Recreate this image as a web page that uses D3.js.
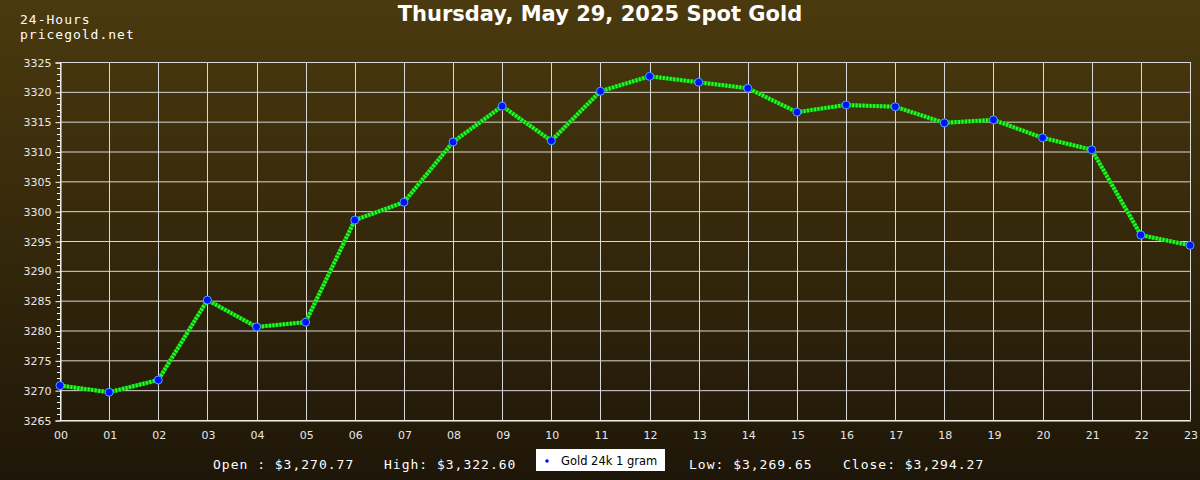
<!DOCTYPE html>
<html><head><meta charset="utf-8">
<script src="https://cdn.jsdelivr.net/npm/d3@7"></script>
<style>html,body{margin:0;padding:0;background:#000;}svg{display:block;}</style>
</head><body>
<svg id="c" width="1200" height="480"></svg>
<script>
const hours = ["00","01","02","03","04","05","06","07","08","09","10","11","12","13","14","15","16","17","18","19","20","21","22","23"];
const prices = [3270.77,3269.65,3271.7,3285.1,3280.6,3281.4,3298.5,3301.5,3311.6,3317.6,3311.8,3320.1,3322.6,3321.6,3320.6,3316.6,3317.8,3317.5,3314.8,3315.3,3312.3,3310.3,3296.0,3294.27];
const yTicks = [3265,3270,3275,3280,3285,3290,3295,3300,3305,3310,3315,3320,3325];
const title = "Thursday, May 29, 2025 Spot Gold";
const stats = ["Open : $3,270.77","High: $3,322.60","Low: $3,269.65","Close: $3,294.27"];
const legendLabel = "Gold 24k 1 gram";

const svg = d3.select("#c");
const defs = svg.append("defs");
const g = defs.append("linearGradient").attr("id","bg").attr("x1",0).attr("y1",0).attr("x2",0).attr("y2",1);
g.append("stop").attr("offset","0%").attr("stop-color","#4b3a0e");
g.append("stop").attr("offset","100%").attr("stop-color","#1e1608");
svg.append("rect").attr("width",1200).attr("height",480).attr("fill","url(#bg)");

const x = d3.scalePoint().domain(hours).range([60,1190]);
const y = d3.scaleLinear().domain([3265,3325]).range([420,62]);

// grid
svg.append("g").selectAll("line").data(yTicks).join("line")
  .attr("x1",60).attr("x2",1190).attr("y1",d=>y(d)+0.5).attr("y2",d=>y(d)+0.5)
  .attr("stroke","#d8d8d8").attr("stroke-width",1);
svg.append("g").selectAll("line").data(hours).join("line")
  .attr("x1",d=>Math.round(x(d))+0.5).attr("x2",d=>Math.round(x(d))+0.5).attr("y1",y(3325)).attr("y2",y(3265))
  .attr("stroke","#d8d8d8").attr("stroke-width",1);

// y axis
const yAxis = d3.axisLeft(y).tickValues(yTicks).tickSize(5).tickFormat(d3.format("d"));
const ya = svg.append("g").attr("transform","translate(60.5,0.5)").call(yAxis);
ya.select(".domain").attr("stroke","#ffffff");
ya.selectAll(".tick line").attr("stroke","#ffffff");
ya.selectAll("text").attr("fill","#e8e8e8").attr("font-family","DejaVu Sans").attr("font-size","11px").attr("x",-9);
const minor = d3.range(3265,3326,1).filter(v=>v%5!==0);
svg.append("g").selectAll("line").data(minor).join("line")
  .attr("x1",57).attr("x2",60).attr("y1",d=>Math.round(y(d))+0.5).attr("y2",d=>Math.round(y(d))+0.5)
  .attr("stroke","#ffffff");

// x axis
const xAxis = d3.axisBottom(x).tickSize(0).tickPadding(11);
const xa = svg.append("g").attr("transform","translate(0.5,420.5)").call(xAxis);
xa.select(".domain").attr("stroke","#ffffff");
xa.selectAll("text").attr("fill","#e8e8e8").attr("font-family","DejaVu Sans").attr("font-size","11px");

// line
const line = d3.line().x((d,i)=>x(hours[i])).y(d=>y(d));
svg.append("path").datum(prices).attr("d",line).attr("fill","none")
  .attr("stroke","#119911").attr("stroke-width",4);
svg.append("path").datum(prices).attr("d",line).attr("fill","none")
  .attr("stroke","#22ff22").attr("stroke-width",4).attr("stroke-dasharray","2,1.5");

// points
svg.append("g").selectAll("circle").data(prices).join("circle")
  .attr("cx",(d,i)=>x(hours[i])).attr("cy",d=>y(d)).attr("r",4)
  .attr("fill","#0010ff").attr("stroke","#4aa8ff").attr("stroke-width",1);

// titles
svg.append("text").attr("x",600).attr("y",21).attr("text-anchor","middle")
  .attr("font-family","DejaVu Sans").attr("font-weight","bold").attr("font-size","21px").attr("fill","#ffffff").text(title);
svg.append("text").attr("x",20).attr("y",24).attr("font-family","DejaVu Sans Mono").attr("font-size","13px").attr("letter-spacing","1px").attr("fill","#ffffff").text("24-Hours");
svg.append("text").attr("x",20).attr("y",39).attr("font-family","DejaVu Sans Mono").attr("font-size","13px").attr("letter-spacing","1px").attr("fill","#ffffff").text("pricegold.net");

// stats
const statX = [213,384,689,843];
svg.append("g").selectAll("text").data(stats).join("text")
  .attr("x",(d,i)=>statX[i]).attr("y",469)
  .attr("font-family","DejaVu Sans Mono").attr("font-size","13px").attr("letter-spacing","1px").attr("fill","#ffffff").text(d=>d);

// legend
svg.append("rect").attr("x",536).attr("y",449).attr("width",129).attr("height",22).attr("fill","#ffffff");
svg.append("circle").attr("cx",547).attr("cy",461).attr("r",1.8).attr("fill","#0010ff");
svg.append("text").attr("x",561).attr("y",465).attr("font-family","DejaVu Sans").attr("font-size","11.5px").attr("fill","#000").text(legendLabel);
</script>
</body></html>
